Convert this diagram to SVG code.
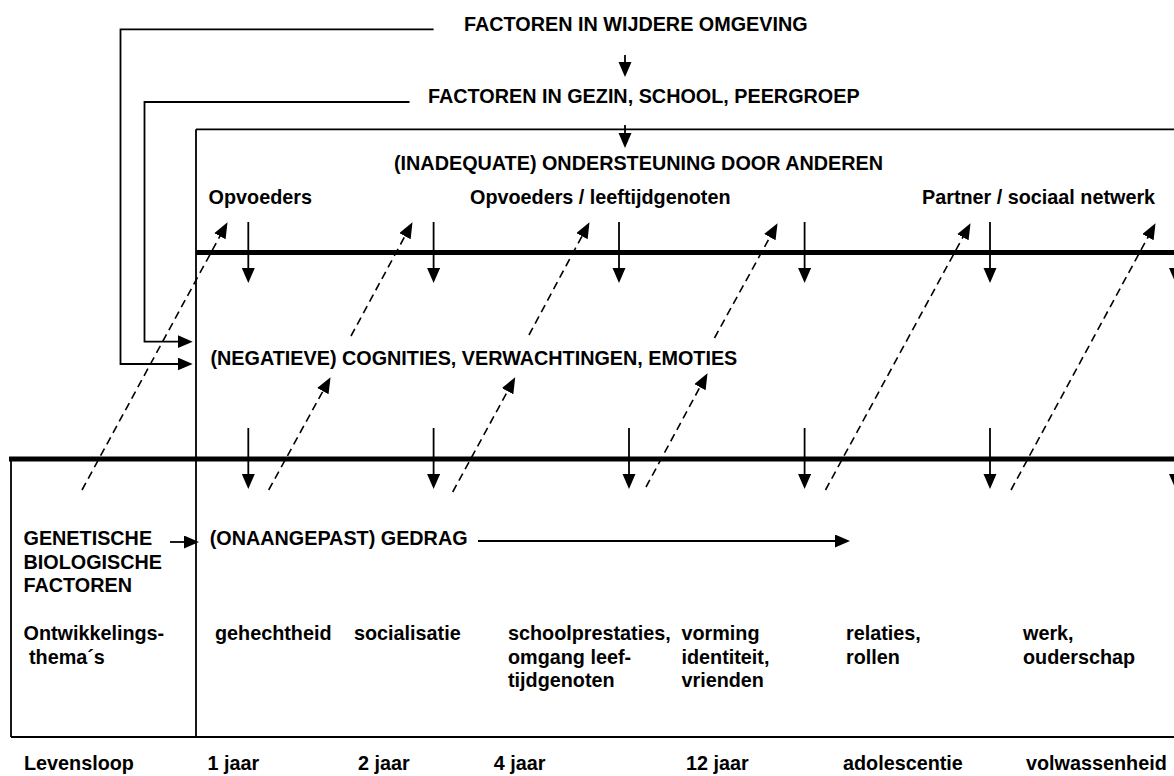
<svg xmlns="http://www.w3.org/2000/svg" width="1174" height="776" viewBox="0 0 1174 776">
<defs>
<style>
text{font-family:"Liberation Sans",Arial,Helvetica,sans-serif;font-weight:bold;font-size:19.8px;fill:#000}
.ln{stroke:#000;stroke-width:1.8;fill:none}
.thick{stroke:#000;stroke-width:5;fill:none}
.arr{stroke:#000;stroke-width:1.8;fill:none;marker-end:url(#ah)}
.dash{stroke:#000;stroke-width:1.6;fill:none;stroke-dasharray:8 5;marker-end:url(#dh)}
</style>
<marker id="ah" markerUnits="userSpaceOnUse" markerWidth="16" markerHeight="14" refX="8" refY="6.5" orient="auto">
<path d="M0,0 L15,6.5 L0,13 Z" fill="#000" stroke="none"/>
</marker>
<marker id="dh" markerUnits="userSpaceOnUse" markerWidth="17" markerHeight="14" refX="8" refY="6.5" orient="auto">
<path d="M0,0 L16,6.5 L0,13 Z" fill="#000" stroke="none"/>
</marker>
</defs>
<rect width="1174" height="776" fill="#fff"/>

<g id="frame">
<path class="ln" d="M196,129.3 H1174 M196,129.3 V737 M11,737 H1174 M11,459 V737"/>
<path class="thick" d="M196,252.5 H1174 M9,459 H1174"/>
</g>

<g id="connectors">
<path class="arr" d="M433.6,29.3 H120.5 V364 H185.7"/>
<path class="arr" d="M409.5,102 H144.5 V341.7 H185.7"/>
<path class="arr" d="M625,55 V70"/>
<path class="arr" d="M625,125 V141"/>
<path class="arr" d="M248.3,222 V276"/>
<path class="arr" d="M433.6,222 V276"/>
<path class="arr" d="M619,222 V276"/>
<path class="arr" d="M804.6,222 V276"/>
<path class="arr" d="M990,222 V276"/>
<path class="arr" d="M1175.5,222 V276"/>
<path class="arr" d="M248.3,428 V482"/>
<path class="arr" d="M433.6,428 V482"/>
<path class="arr" d="M629,428 V482"/>
<path class="arr" d="M804.6,428 V482"/>
<path class="arr" d="M990,428 V482"/>
<path class="arr" d="M1175.5,428 V482"/>
<path class="arr" d="M170,542 H192"/>
<path class="arr" d="M478,541 H843"/>
<path class="dash" d="M82,490 L223.7,229.2"/>
<path class="dash" d="M268.7,490 L326.7,384.2"/>
<path class="dash" d="M351,336 L408.7,229.2"/>
<path class="dash" d="M452.7,492 L511.4,384.2"/>
<path class="dash" d="M529,335 L585.7,229.2"/>
<path class="dash" d="M646,487 L703.7,380.2"/>
<path class="dash" d="M714.5,338 L773.7,230.2"/>
<path class="dash" d="M825.5,490 L966.7,230.2"/>
<path class="dash" d="M1011,490 L1151.7,230.2"/>
</g>

<g id="wijdere"><text x="464" y="31">FACTOREN IN WIJDERE OMGEVING</text></g>
<g id="gezin"><text x="428" y="103">FACTOREN IN GEZIN, SCHOOL, PEERGROEP</text></g>
<g id="ondersteuning"><text x="394" y="170">(INADEQUATE) ONDERSTEUNING DOOR ANDEREN</text></g>
<g id="opvoeders1"><text x="208.6" y="204">Opvoeders</text></g>
<g id="opvoeders2"><text x="470" y="204">Opvoeders / leeftijdgenoten</text></g>
<g id="partner"><text x="922" y="204">Partner / sociaal netwerk</text></g>
<g id="cognities"><text x="210.5" y="365">(NEGATIEVE) COGNITIES, VERWACHTINGEN, EMOTIES</text></g>
<g id="genetisch"><text x="23.5" y="545">GENETISCHE</text><text x="23.5" y="568.5">BIOLOGISCHE</text><text x="23.5" y="592">FACTOREN</text></g>
<g id="gedrag"><text x="209.7" y="545">(ONAANGEPAST) GEDRAG</text></g>
<g id="themas"><text x="23.5" y="640">Ontwikkelings-</text><text x="29" y="663.5">thema´s</text></g>
<g id="t1"><text x="215" y="640">gehechtheid</text></g>
<g id="t2"><text x="354" y="640">socialisatie</text></g>
<g id="t3"><text x="508" y="640">schoolprestaties,</text><text x="508" y="663.5">omgang leef-</text><text x="508" y="687">tijdgenoten</text></g>
<g id="t4"><text x="681.5" y="640">vorming</text><text x="681.5" y="663.5">identiteit,</text><text x="681.5" y="687">vrienden</text></g>
<g id="t5"><text x="846" y="640">relaties,</text><text x="846" y="663.5">rollen</text></g>
<g id="t6"><text x="1023" y="640">werk,</text><text x="1023" y="663.5">ouderschap</text></g>
<g id="levensloop">
<text x="24" y="770">Levensloop</text>
<text x="207.5" y="770">1 jaar</text>
<text x="358" y="770">2 jaar</text>
<text x="493.7" y="770">4 jaar</text>
<text x="686" y="770">12 jaar</text>
<text x="843" y="770">adolescentie</text>
<text x="1026" y="770">volwassenheid</text>
</g>
</svg>
